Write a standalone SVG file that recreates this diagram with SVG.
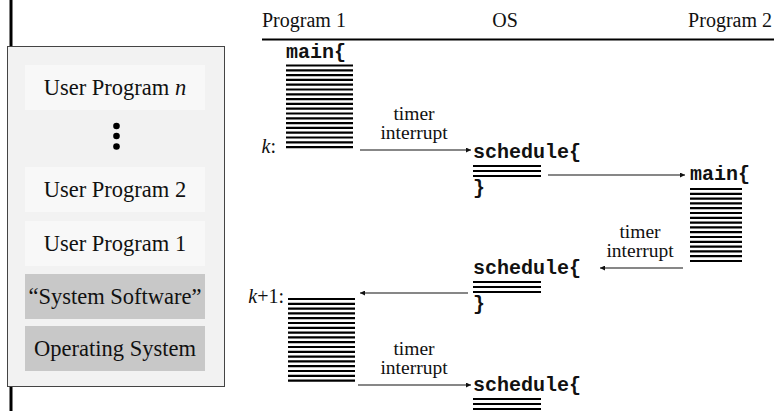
<svg xmlns="http://www.w3.org/2000/svg" width="774" height="411" viewBox="0 0 774 411">
  <defs>
    <style>
      .serif { font-family: "Liberation Serif", "Times New Roman", serif; fill: #111; }
      .hdr { font-size: 20px; }
      .box-txt { font-size: 22.5px; text-anchor: middle; }
      .lbl { font-size: 19.5px; text-anchor: middle; }
      .mark { font-size: 20px; text-anchor: end; }
      .code { font-family: "Liberation Mono", "Courier New", monospace; font-weight: bold; font-size: 20px; fill: #111; }
      .conn { stroke: #111; stroke-width: 1.2; fill: none; marker-end: url(#arrow); }
      .lines line { stroke: #000; stroke-width: 2.2; }
    </style>
    <marker id="arrow" viewBox="0 0 10 10" refX="10" refY="5" markerWidth="7" markerHeight="5" markerUnits="userSpaceOnUse" orient="auto">
      <path d="M0,0 L10,5 L0,10 z" fill="#111"/>
    </marker>
  </defs>

  <!-- left margin rule -->
  <line x1="11" y1="0" x2="11" y2="47" stroke="#000" stroke-width="3"/>
  <line x1="11" y1="387" x2="11" y2="411" stroke="#000" stroke-width="3"/>

  <!-- software stack -->
  <g id="stack">
    <rect x="7.5" y="46.5" width="217" height="340" fill="#f2f2f2" stroke="#444" stroke-width="1"/>
    <g id="user-n">
      <rect x="25" y="65" width="180" height="45" fill="#f8f8f8"/>
      <text class="serif box-txt" x="115" y="95">User Program <tspan font-style="italic">n</tspan></text>
    </g>
    <g id="dots" fill="#000">
      <circle cx="116.5" cy="126" r="3.3"/>
      <circle cx="116.5" cy="136" r="3.3"/>
      <circle cx="116.5" cy="146.5" r="3.3"/>
    </g>
    <g id="user-2">
      <rect x="25" y="167" width="180" height="45" fill="#f8f8f8"/>
      <text class="serif box-txt" x="115" y="197">User Program 2</text>
    </g>
    <g id="user-1">
      <rect x="25" y="221" width="180" height="45" fill="#f8f8f8"/>
      <text class="serif box-txt" x="115" y="251">User Program 1</text>
    </g>
    <g id="sys-sw">
      <rect x="25" y="274" width="180" height="45" fill="#c8c8c8"/>
      <text class="serif box-txt" x="115" y="304">“System Software”</text>
    </g>
    <g id="os">
      <rect x="25" y="326" width="180" height="45" fill="#c8c8c8"/>
      <text class="serif box-txt" x="115" y="356">Operating System</text>
    </g>
  </g>

  <!-- column headings -->
  <g id="headings">
    <text class="serif hdr" x="262" y="27">Program 1</text>
    <text class="serif hdr" x="505" y="27" text-anchor="middle">OS</text>
    <text class="serif hdr" x="772" y="27" text-anchor="end">Program 2</text>
    <line x1="262" y1="39.5" x2="774" y2="39.5" stroke="#000" stroke-width="1.8"/>
  </g>

  <!-- Program 1, first slice -->
  <g id="p1-main">
    <text class="code" x="286" y="58">main{</text>
    <g class="lines">
      <line x1="286" y1="65.5" x2="353" y2="65.5"/>
      <line x1="286" y1="70.3" x2="353" y2="70.3"/>
      <line x1="286" y1="75.1" x2="353" y2="75.1"/>
      <line x1="286" y1="79.9" x2="353" y2="79.9"/>
      <line x1="286" y1="84.7" x2="353" y2="84.7"/>
      <line x1="286" y1="89.5" x2="353" y2="89.5"/>
      <line x1="286" y1="94.3" x2="353" y2="94.3"/>
      <line x1="286" y1="99.1" x2="353" y2="99.1"/>
      <line x1="286" y1="103.9" x2="353" y2="103.9"/>
      <line x1="286" y1="108.7" x2="353" y2="108.7"/>
      <line x1="286" y1="113.5" x2="353" y2="113.5"/>
      <line x1="286" y1="118.3" x2="353" y2="118.3"/>
      <line x1="286" y1="123.1" x2="353" y2="123.1"/>
      <line x1="286" y1="127.9" x2="353" y2="127.9"/>
      <line x1="286" y1="132.7" x2="353" y2="132.7"/>
      <line x1="286" y1="137.5" x2="353" y2="137.5"/>
      <line x1="286" y1="142.3" x2="353" y2="142.3"/>
      <line x1="286" y1="147.1" x2="353" y2="147.1"/>
    </g>
    <text class="serif mark" x="276" y="153"><tspan font-style="italic">k</tspan>:</text>
  </g>

  <!-- OS, first schedule -->
  <g id="os-sched-1">
    <text class="code" x="473" y="158">schedule{</text>
    <g class="lines">
      <line x1="473" y1="166" x2="541" y2="166"/>
      <line x1="473" y1="171" x2="541" y2="171"/>
      <line x1="473" y1="176" x2="541" y2="176"/>
    </g>
    <text class="code" x="473" y="194">}</text>
  </g>

  <!-- Program 2 -->
  <g id="p2-main">
    <text class="code" x="690" y="180">main{</text>
    <g class="lines">
      <line x1="690" y1="189" x2="742" y2="189"/>
      <line x1="690" y1="193.8" x2="742" y2="193.8"/>
      <line x1="690" y1="198.6" x2="742" y2="198.6"/>
      <line x1="690" y1="203.4" x2="742" y2="203.4"/>
      <line x1="690" y1="208.2" x2="742" y2="208.2"/>
      <line x1="690" y1="213" x2="742" y2="213"/>
      <line x1="690" y1="217.8" x2="742" y2="217.8"/>
      <line x1="690" y1="222.6" x2="742" y2="222.6"/>
      <line x1="690" y1="227.4" x2="742" y2="227.4"/>
      <line x1="690" y1="232.2" x2="742" y2="232.2"/>
      <line x1="690" y1="237" x2="742" y2="237"/>
      <line x1="690" y1="241.8" x2="742" y2="241.8"/>
      <line x1="690" y1="246.6" x2="742" y2="246.6"/>
      <line x1="690" y1="251.4" x2="742" y2="251.4"/>
      <line x1="690" y1="256.2" x2="742" y2="256.2"/>
      <line x1="690" y1="261" x2="742" y2="261"/>
    </g>
  </g>

  <!-- OS, second schedule -->
  <g id="os-sched-2">
    <text class="code" x="473" y="274">schedule{</text>
    <g class="lines">
      <line x1="473" y1="282" x2="541" y2="282"/>
      <line x1="473" y1="287" x2="541" y2="287"/>
      <line x1="473" y1="292" x2="541" y2="292"/>
    </g>
    <text class="code" x="473" y="310">}</text>
  </g>

  <!-- Program 1, second slice -->
  <g id="p1-resume">
    <text class="serif mark" x="284" y="303"><tspan font-style="italic">k</tspan>+1:</text>
    <g class="lines">
      <line x1="288" y1="299" x2="355" y2="299"/>
      <line x1="288" y1="303.8" x2="355" y2="303.8"/>
      <line x1="288" y1="308.6" x2="355" y2="308.6"/>
      <line x1="288" y1="313.4" x2="355" y2="313.4"/>
      <line x1="288" y1="318.2" x2="355" y2="318.2"/>
      <line x1="288" y1="323" x2="355" y2="323"/>
      <line x1="288" y1="327.8" x2="355" y2="327.8"/>
      <line x1="288" y1="332.6" x2="355" y2="332.6"/>
      <line x1="288" y1="337.4" x2="355" y2="337.4"/>
      <line x1="288" y1="342.2" x2="355" y2="342.2"/>
      <line x1="288" y1="347" x2="355" y2="347"/>
      <line x1="288" y1="351.8" x2="355" y2="351.8"/>
      <line x1="288" y1="356.6" x2="355" y2="356.6"/>
      <line x1="288" y1="361.4" x2="355" y2="361.4"/>
      <line x1="288" y1="366.2" x2="355" y2="366.2"/>
      <line x1="288" y1="371" x2="355" y2="371"/>
      <line x1="288" y1="375.8" x2="355" y2="375.8"/>
      <line x1="288" y1="380.6" x2="355" y2="380.6"/>
    </g>
  </g>

  <!-- OS, third schedule -->
  <g id="os-sched-3">
    <text class="code" x="473" y="391">schedule{</text>
    <g class="lines">
      <line x1="473" y1="399" x2="541" y2="399"/>
      <line x1="473" y1="404" x2="541" y2="404"/>
      <line x1="473" y1="409" x2="541" y2="409"/>
    </g>
  </g>

  <!-- control transfers -->
  <g id="connectors">
    <line class="conn" x1="360" y1="150" x2="471" y2="150"/>
    <text class="serif lbl" x="414" y="120">timer</text>
    <text class="serif lbl" x="414" y="139">interrupt</text>

    <line class="conn" x1="548" y1="175" x2="685" y2="175"/>

    <line class="conn" x1="683" y1="268" x2="600" y2="268"/>
    <text class="serif lbl" x="640" y="238">timer</text>
    <text class="serif lbl" x="640" y="257">interrupt</text>

    <line class="conn" x1="468" y1="293" x2="360" y2="293"/>

    <line class="conn" x1="358" y1="385" x2="471" y2="385"/>
    <text class="serif lbl" x="414" y="355">timer</text>
    <text class="serif lbl" x="414" y="374">interrupt</text>
  </g>
</svg>
